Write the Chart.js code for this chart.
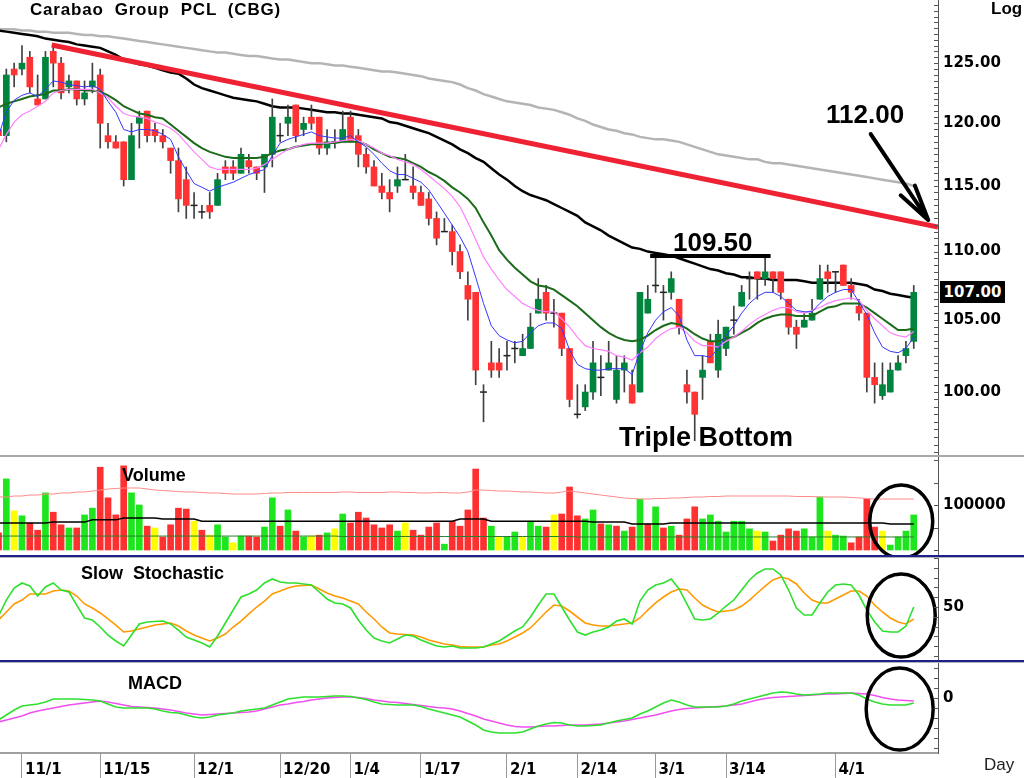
<!DOCTYPE html>
<html>
<head>
<meta charset="utf-8">
<title>Carabao Group PCL (CBG)</title>
<script src="https://cdn.jsdelivr.net/npm/chart.js"></script>
<style>
  html, body { margin: 0; padding: 0; background: #fff; }
  #wrap { position: relative; width: 1024px; height: 778px; overflow: hidden; background: #fff;
          font-family: "Liberation Sans", Arial, sans-serif; }
  canvas { position: absolute; left: 0; }
  .lbl { position: absolute; font-weight: bold; color: #000; white-space: pre; line-height: 1; }
  .sep { position: absolute; left: 0; width: 1024px; }
  #last { position: absolute; left: 940px; top: 281px; width: 65px; height: 22px; background: #000; color: #fff;
          font: bold 15px "DejaVu Sans", sans-serif; line-height: 22px; text-align: center; }
</style>
</head>
<body>
<div id="wrap">
  <canvas id="cPrice" width="1024" height="457" style="top:0px"></canvas>
  <canvas id="cVol" width="1024" height="98" style="top:457px"></canvas>
  <canvas id="cSto" width="1024" height="102" style="top:558px"></canvas>
  <canvas id="cMacd" width="1024" height="115" style="top:663px"></canvas>

  <div class="sep" style="top:455px;height:2px;background:#a8a8a8"></div>
  <div class="sep" style="top:555px;height:2px;background:#20208a"></div>
  <div class="sep" style="top:557px;height:1px;background:#b4b4b4"></div>
  <div class="sep" style="top:660px;height:2px;background:#20208a"></div>
  <div class="sep" style="top:662px;height:1px;background:#b4b4b4"></div>

  <div class="lbl" style="left:30px;top:1px;font-size:17px;letter-spacing:0.8px">Carabao  Group  PCL  (CBG)</div>
  <div class="lbl" style="left:991px;top:0px;font-size:17px">Log</div>
  <div class="lbl" style="left:826px;top:101px;font-size:26px">112.00</div>
  <div class="lbl" style="left:673px;top:229px;font-size:26px">109.50</div>
  <div class="lbl" style="left:619px;top:424px;font-size:27px">Triple Bottom</div>
  <div class="lbl" style="left:122px;top:466px;font-size:18px">Volume</div>
  <div class="lbl" style="left:81px;top:564px;font-size:18px">Slow  Stochastic</div>
  <div class="lbl" style="left:128px;top:674px;font-size:18px">MACD</div>
  <div class="lbl" style="left:984px;top:756px;font-size:17px;font-weight:normal;color:#222">Day</div>
  <div id="last">107.00</div>
</div>
<script>
// trading days, first visible bar is day -3 (11/1 = day 0)
const firstDay = -3;

const opens = [
  119.5, 119, 124.5, 124.5, 125.5, 122, 122, 126, 125, 123,
  123.5, 122, 123, 124, 119, 118.5, 118.5, 115.5, 120, 121,
  119.5, 119, 118, 117, 115.5, 113.5, 113, 113.5, 113.5, 116.5,
  116.5, 116, 117, 116.5, 116.5, 117.5, 119, 120, 121.5, 119.5,
  120.5, 120.5, 118, 118.5, 118.5, 120.5, 119, 117.5, 116.5, 115,
  114.5, 115, 115.5, 115, 114.5, 114, 112.5, 111.5, 111.5, 110,
  107.5, 107, 100, 102, 102, 102.5, 103, 102.5, 103, 105.5,
  107, 105.5, 105.5, 103, 98.5, 99, 100, 101, 101.5, 99.5,
  101.5, 100.5, 100, 105.5, 107.5, 107, 107, 106.5, 100.5, 100,
  101, 103.5, 101.5, 103, 105, 106, 108, 108.5, 108, 108.5,
  108.5, 106.5, 104.5, 104.5, 105, 106.5, 108.5, 108.5, 109, 107.5,
  106, 105.5, 101, 99.75, 100, 101.5, 102.5, 103.5
];
const highs = [
  120, 124.5, 125, 126.5, 126, 124, 126, 126.5, 125.5, 124,
  123.5, 123.5, 125, 124.5, 120, 119, 118.5, 120, 121, 121,
  120, 119.5, 118, 118, 116.5, 114.5, 113.5, 114.5, 116, 117,
  117, 118, 117.5, 116.5, 117.5, 122, 120, 121.5, 121.5, 120.5,
  121.5, 120.5, 119.5, 119.5, 121, 121, 119.5, 118, 117, 116,
  115.5, 116.5, 117.5, 116.5, 115, 114.5, 113, 112.5, 112, 110.5,
  108.5, 107, 100.5, 103.5, 103, 103.5, 103.5, 104, 105.5, 108,
  107.5, 106.5, 105.5, 103, 100.5, 100.5, 103.5, 102.5, 103.5, 102.5,
  102.5, 101.5, 107, 107.5, 109.5, 107.5, 108.5, 106.5, 101.5, 100,
  102.5, 104, 105, 104.5, 106, 107.5, 108.5, 108.5, 109.5, 108.5,
  108.5, 106.5, 105, 105.5, 106.5, 109, 109, 108.5, 109, 108,
  106.5, 105.5, 102, 102, 102, 102.5, 103.5, 107.5
];
const lows = [
  118.5, 118.5, 123, 124, 122.5, 121.5, 122, 123, 122, 122.5,
  121.5, 121.5, 122.5, 118, 118, 118, 115, 115.5, 118, 118.5,
  118.5, 118, 116, 113, 112.5, 112.5, 112.5, 112.5, 113.5, 115.5,
  115.5, 116, 116, 115.5, 114.5, 116.5, 118.5, 119, 118.5, 119,
  119.5, 117.5, 117.5, 118, 118.5, 118.5, 116.5, 116, 115, 114,
  113, 114.5, 115.5, 114, 113.5, 112, 110.5, 111.5, 109, 108,
  105, 100.5, 98, 101, 101, 101.5, 102, 102.5, 103, 105.5,
  105, 104.5, 102.5, 99, 98.25, 98.75, 99.5, 99.75, 101.5, 99.25,
  100, 99.25, 100, 105.5, 107, 105, 106.5, 104, 99.25, 96.75,
  99.5, 102, 101, 102.5, 104, 106, 106.5, 106.5, 107.5, 107,
  106.5, 104, 103, 104.5, 105, 106.5, 107, 107, 107.5, 106.5,
  105, 100, 99.25, 99.5, 100, 101.5, 102, 103
];
const closes = [
  119, 124, 124, 125, 123, 121.5, 125.5, 125, 122.5, 123.5,
  122, 122.5, 123.5, 120, 118.5, 118, 115.5, 119, 120.5, 119,
  119, 118.5, 117, 114, 113.5, 113.5, 113, 113, 115.5, 116,
  116, 117.5, 116.5, 116, 117.5, 120.5, 119, 120.5, 119, 120,
  120, 118, 118.5, 118.5, 119.5, 118.5, 117.5, 116.5, 115, 114.5,
  114, 115.5, 115.5, 114.5, 113.5, 112.5, 111, 111.5, 110, 108.5,
  106.5, 101.5, 100, 101.5, 101.5, 102.5, 103, 103, 104.5, 106.5,
  105.5, 105.5, 103, 99.5, 98.5, 100, 102, 101, 102, 101.5,
  102, 99.25, 107, 106.5, 107.5, 107, 108, 104.5, 100, 98.5,
  101.5, 102, 104, 104.5, 105, 107, 108, 108, 108.5, 108,
  107, 104.5, 104, 105, 105.5, 108, 108, 108.5, 107.5, 107,
  105.5, 101, 100.5, 100.5, 101.5, 102, 103, 107
];

// moving averages drawn on the price panel
const maBlue = [
  119.0, 120.9, 121.9, 122.3, 122.5, 122.2, 122.8, 123.5, 123.4, 123.2,
  123.1, 123.0, 123.1, 122.8, 121.8, 120.9, 119.5, 119.3, 119.5, 119.5,
  119.4, 119.1, 118.7, 117.3, 116.2, 115.2, 114.9, 114.6, 114.9, 115.1,
  115.3, 115.6, 115.9, 116.1, 116.3, 117.4, 118.4, 118.7, 118.9, 119.1,
  119.3, 119.0, 118.9, 118.8, 118.8, 119.0, 118.5, 118.1, 117.5, 116.8,
  116.2, 115.9, 115.9, 115.6, 115.3, 114.7, 113.8, 112.9, 112.0, 111.1,
  110.0, 108.1, 106.2, 104.6, 103.9, 103.6, 103.4, 103.5, 104.1, 104.6,
  104.8, 104.8, 104.4, 102.9, 101.9, 101.6, 101.5, 101.5, 101.6, 101.6,
  101.6, 101.2, 102.8, 104.1, 105.0, 105.6, 105.9, 105.3, 103.6, 102.5,
  102.5, 102.4, 103.0, 103.9, 104.6, 105.5, 106.2, 106.7, 107.0, 107.0,
  106.7, 106.2, 105.7, 105.6, 105.6, 106.2, 106.7, 107.0, 107.2, 107.2,
  106.3, 105.4, 104.1, 103.1, 102.8, 102.7, 103.0, 103.8
];
const maPink = [
  117.9, 119.1, 120.1, 120.7, 121.0, 121.4, 121.8, 122.5, 122.7, 122.8,
  122.8, 122.8, 122.8, 122.5, 122.1, 121.4, 120.8, 120.6, 120.5, 120.4,
  120.1, 119.9, 119.6, 119.1, 118.4, 117.7, 117.1, 116.5, 116.3, 116.3,
  116.3, 116.3, 116.3, 116.4, 116.7, 117.1, 117.5, 117.9, 118.1, 118.3,
  118.4, 118.4, 118.4, 118.5, 118.6, 118.7, 118.6, 118.3, 118.0, 117.6,
  117.4, 117.1, 116.9, 116.7, 116.3, 115.8, 115.3, 114.8, 114.2, 113.4,
  112.2, 110.9, 109.6, 108.7, 107.9, 107.2, 106.7, 106.2, 105.9, 105.7,
  105.6, 105.6, 105.1, 104.5, 103.8, 103.2, 103.0, 102.9, 102.8, 102.5,
  102.4, 102.2, 102.7, 103.1, 103.7, 104.1, 104.4, 104.5, 104.1, 103.5,
  103.2, 103.2, 103.1, 103.5, 103.8, 104.2, 104.7, 105.1, 105.4, 105.7,
  105.9, 105.9, 105.6, 105.5, 105.7, 105.9, 106.2, 106.4, 106.5, 106.6,
  106.4, 105.7, 105.1, 104.6, 104.1, 103.9, 103.8, 104.2
];
const maGreen = [
  121.3, 121.6, 121.8, 122.0, 122.2, 122.3, 122.4, 122.7, 122.7, 122.8,
  122.8, 122.7, 122.7, 122.6, 122.3, 121.9, 121.4, 121.1, 120.8, 120.7,
  120.5, 120.4, 119.9, 119.4, 118.9, 118.4, 118.0, 117.7, 117.5, 117.3,
  117.2, 117.2, 117.2, 117.2, 117.3, 117.6, 117.8, 117.9, 118.1, 118.2,
  118.3, 118.3, 118.4, 118.4, 118.5, 118.5, 118.5, 118.3, 117.9, 117.6,
  117.3, 117.2, 117.1, 116.8, 116.5, 116.1, 115.8, 115.4, 114.9, 114.5,
  114.0, 113.3, 112.2, 111.2, 110.1, 109.4, 108.8, 108.3, 107.8, 107.5,
  107.4, 107.2, 106.8, 106.4, 106.0, 105.5, 105.0, 104.5, 104.1, 103.8,
  103.6, 103.5, 103.6, 103.9, 104.3, 104.6, 104.8, 104.7, 104.4, 104.0,
  103.7, 103.5, 103.5, 103.7, 103.8, 104.1, 104.4, 104.8, 105.1, 105.3,
  105.4, 105.4, 105.3, 105.3, 105.3, 105.6, 105.9, 106.0, 106.2, 106.2,
  106.2, 105.9, 105.5, 105.1, 104.7, 104.3, 104.3, 104.4
];
const maBlack = [
  127.8, 127.7, 127.6, 127.5, 127.4, 127.3, 127.1, 127.0, 126.9, 126.8,
  126.6, 126.5, 126.4, 126.3, 126.0, 125.7, 125.3, 125.1, 124.9, 124.8,
  124.6, 124.4, 124.2, 124.1, 123.7, 123.2, 122.9, 122.7, 122.5, 122.3,
  122.1, 122.0, 121.9, 121.8, 121.6, 121.4, 121.3, 121.3, 121.3, 121.2,
  121.1, 121.0, 120.9, 120.9, 120.8, 120.8, 120.7, 120.6, 120.5, 120.4,
  120.1, 120.0, 119.8, 119.6, 119.4, 119.2, 118.9, 118.6, 118.3, 117.9,
  117.6, 117.2, 116.9, 116.4, 115.9, 115.5, 115.0, 114.6, 114.3, 114.1,
  113.9, 113.6, 113.3, 113.0, 112.7, 112.2, 111.9, 111.6, 111.2, 110.9,
  110.6, 110.3, 110.2, 110.0, 109.9, 109.8, 109.7, 109.5, 109.3, 109.1,
  108.9, 108.7, 108.6, 108.4, 108.3, 108.1, 108.1, 108.0, 108.0, 107.9,
  107.9, 107.9, 107.9, 107.8, 107.7, 107.7, 107.7, 107.7, 107.7, 107.7,
  107.6, 107.5, 107.2, 107.1, 106.9, 106.8, 106.7, 106.6
];
const maGrey = [
  127.9, 127.9, 127.9, 127.8, 127.8, 127.7, 127.7, 127.6, 127.6, 127.6,
  127.5, 127.4, 127.4, 127.3, 127.3, 127.2, 127.1, 127.0, 126.9, 126.8,
  126.7, 126.6, 126.5, 126.4, 126.3, 126.2, 126.1, 126.0, 125.9, 125.9,
  125.8, 125.7, 125.6, 125.6, 125.5, 125.4, 125.3, 125.3, 125.2, 125.1,
  125.0, 125.0, 124.9, 124.8, 124.8, 124.7, 124.6, 124.5, 124.4, 124.3,
  124.3, 124.2, 124.1, 124.0, 123.9, 123.7, 123.6, 123.5, 123.4, 123.2,
  122.9, 122.7, 122.4, 122.2, 122.0, 121.8, 121.7, 121.6, 121.5, 121.3,
  121.2, 121.1, 120.9, 120.7, 120.4, 120.2, 119.9, 119.7, 119.5, 119.4,
  119.2, 119.1, 118.9, 118.8, 118.7, 118.7, 118.6, 118.5, 118.3, 118.1,
  117.9, 117.7, 117.5, 117.4, 117.3, 117.2, 117.1, 117.1, 116.9, 116.8,
  116.8, 116.7, 116.6, 116.5, 116.4, 116.3, 116.2, 116.1, 116.0, 115.9,
  115.8, 115.7, 115.6, 115.5, 115.4, 115.3, 115.2, 115.0
];

// drawn trend line and the 109.50 level
const trendDays = [3.8, 117.1];
const trendPrices = [126.55, 111.85];
const levelDays = [80.3, 95.7];
const levelPrices = [109.67, 109.67];

// volume in thousand shares, colour code u = up, d = down, n = unchanged
const volume = [
  38, 158, 87, 76, 60, 44, 127, 84, 56, 49,
  49, 78, 93, 184, 116, 78, 187, 127, 100, 53,
  49, 29, 56, 93, 91, 64, 44, 33, 56, 29,
  16, 31, 31, 29, 51, 116, 53, 89, 42, 29,
  31, 33, 38, 47, 80, 60, 84, 71, 56, 49,
  56, 42, 60, 44, 33, 51, 60, 13, 64, 53,
  89, 180, 71, 53, 29, 29, 40, 29, 64, 53,
  51, 78, 80, 140, 76, 69, 89, 58, 56, 53,
  42, 51, 113, 58, 96, 49, 53, 33, 69, 96,
  69, 78, 64, 40, 64, 64, 47, 42, 40, 20,
  33, 47, 42, 47, 29, 118, 42, 33, 31, 16,
  29, 113, 51, 42, 11, 29, 42, 78
];
const volDir = ("dunudduddu" + "duudddduud" + "nddddndnuu" + "nudduududu" +
                "ndunuddddd" + "dunddddudd" + "dddunuunuu" + "dnddduudud" +
                "ududududdd" + "uuuuuuunud" + "ddduuunuud" + "dddnuuuu").split('');
const volUpper = [
  117.8, 117.8, 120.0, 120.0, 122.2, 122.2, 124.4, 124.4, 126.7, 126.7,
  128.9, 128.9, 131.1, 133.3, 135.6, 136.7, 137.8, 137.8, 137.8, 135.6,
  133.3, 132.2, 131.1, 130.0, 128.9, 128.9, 127.8, 126.7, 126.7, 125.6,
  124.4, 124.4, 124.4, 124.4, 125.6, 126.7, 126.7, 127.8, 127.8, 127.8,
  127.8, 127.8, 127.8, 127.8, 128.9, 128.9, 127.8, 127.8, 127.8, 127.8,
  128.9, 128.9, 127.8, 127.8, 126.7, 126.7, 127.8, 127.8, 126.7, 126.7,
  128.9, 133.3, 133.3, 132.2, 131.1, 131.1, 130.0, 128.9, 128.9, 127.8,
  126.7, 126.7, 128.9, 131.1, 128.9, 126.7, 124.4, 122.2, 120.0, 117.8,
  115.6, 114.4, 113.3, 113.3, 114.4, 114.4, 115.6, 115.6, 116.7, 117.8,
  117.8, 118.9, 118.9, 120.0, 120.0, 120.0, 120.0, 120.0, 120.0, 120.0,
  120.0, 120.0, 118.9, 118.9, 118.9, 117.8, 117.8, 117.8, 117.8, 116.7,
  115.6, 114.4, 113.3, 113.3, 113.3, 113.3, 113.3, 113.3
];
const volAvg = [
  60, 60, 60, 60, 60, 60, 60, 62, 62, 62,
  62, 62, 67, 67, 67, 67, 71, 71, 71, 71,
  71, 69, 69, 69, 69, 69, 64, 64, 64, 64,
  64, 64, 64, 64, 64, 64, 64, 64, 64, 64,
  64, 64, 64, 64, 64, 64, 64, 64, 64, 64,
  64, 64, 64, 64, 64, 64, 64, 64, 64, 69,
  69, 69, 69, 64, 64, 64, 64, 64, 64, 64,
  64, 64, 64, 64, 64, 64, 62, 62, 62, 62,
  62, 58, 58, 58, 58, 58, 60, 60, 60, 60,
  60, 60, 60, 60, 60, 60, 60, 60, 60, 60,
  60, 60, 60, 60, 60, 60, 60, 60, 60, 60,
  60, 60, 60, 60, 58, 58, 58, 58
];
const volLower = [
  31, 31, 31, 31, 31, 31, 31, 31, 31, 31,
  31, 31, 31, 31, 31, 31, 31, 31, 31, 31,
  31, 31, 31, 31, 31, 31, 31, 31, 31, 31,
  31, 31, 31, 31, 31, 31, 31, 31, 31, 31,
  31, 31, 31, 31, 30, 30, 30, 30, 30, 30,
  30, 30, 30, 30, 30, 30, 30, 30, 30, 30,
  30, 30, 30, 30, 30, 30, 30, 30, 30, 30,
  30, 30, 30, 30, 29, 29, 29, 29, 29, 29,
  29, 29, 29, 29, 29, 29, 29, 29, 29, 29,
  29, 29, 29, 29, 29, 29, 29, 29, 29, 29,
  29, 29, 29, 29, 29, 29, 29, 29, 29, 29,
  29, 29, 29, 29, 29, 29, 29, 29
];

// slow stochastic %K and %D
const stochK = [
  40.8, 57.1, 69.4, 74.5, 71.4, 61.2, 70.4, 74.5, 67.3, 65.3,
  52.0, 38.8, 36.7, 29.6, 21.4, 15.3, 10.2, 21.4, 32.7, 34.7,
  35.2, 35.7, 32.7, 26.5, 19.4, 16.3, 13.3, 9.2, 20.4, 33.7,
  46.9, 60.2, 63.3, 67.3, 74.5, 78.6, 75.5, 74.5, 74.5, 73.5,
  72.4, 65.3, 58.2, 54.1, 53.1, 49.0, 36.7, 26.5, 18.4, 15.3,
  13.3, 17.3, 21.4, 20.4, 16.3, 13.3, 10.2, 9.2, 10.2, 8.2,
  8.2, 8.2, 9.2, 12.2, 15.3, 20.4, 25.5, 29.6, 39.8, 52.0,
  63.3, 63.3, 50.0, 36.7, 24.5, 21.4, 24.5, 26.5, 29.6, 35.7,
  37.8, 32.7, 56.1, 67.3, 72.4, 74.5, 78.6, 68.4, 53.1, 37.8,
  36.7, 37.8, 43.9, 51.0, 57.1, 67.3, 77.6, 84.7, 88.8, 88.8,
  82.7, 67.3, 49.0, 41.8, 41.8, 54.1, 65.3, 72.4, 73.5, 72.4,
  62.2, 46.9, 34.7, 25.5, 24.5, 24.5, 30.6, 50.0
];
const stochD = [
  36.7, 44.9, 53.1, 57.1, 63.3, 63.3, 63.3, 66.3, 67.3, 66.3,
  61.2, 53.1, 49.0, 43.9, 37.8, 31.6, 24.5, 25.5, 27.6, 29.6,
  31.6, 32.7, 33.7, 30.6, 25.5, 21.4, 18.4, 15.3, 18.4, 22.4,
  29.6, 35.7, 42.9, 50.0, 56.1, 63.3, 66.3, 69.4, 71.4, 71.9,
  72.4, 68.4, 64.3, 61.2, 59.2, 56.1, 53.1, 44.9, 37.8, 29.6,
  23.5, 22.4, 21.9, 21.4, 19.4, 16.3, 14.3, 12.2, 11.2, 9.7,
  9.2, 9.2, 9.2, 11.2, 12.2, 15.3, 19.4, 23.5, 28.6, 36.7,
  44.9, 52.0, 51.0, 45.9, 39.8, 33.7, 31.6, 30.6, 30.6, 31.6,
  32.7, 33.7, 38.8, 46.9, 54.1, 60.2, 65.3, 68.4, 67.3, 59.2,
  52.0, 48.0, 44.9, 45.9, 46.9, 51.0, 57.1, 64.3, 71.4, 77.6,
  80.6, 78.6, 73.5, 64.3, 57.1, 54.1, 54.1, 58.2, 62.2, 66.3,
  66.3, 61.2, 52.0, 44.9, 38.8, 34.7, 32.7, 37.8
];

// MACD and signal line
const macd = [
  -2.2, -1.7, -1.2, -0.8, -0.7, -0.6, -0.4, -0.1, -0.1, -0.1,
  -0.1, -0.15, -0.2, -0.3, -0.6, -0.9, -1.0, -1.0, -1.0, -1.0,
  -1.1, -1.3, -1.45, -1.5, -1.7, -1.9, -2.0, -1.9, -1.7, -1.6,
  -1.5, -1.3, -1.2, -1.1, -1.0, -0.7, -0.4, -0.1, 0, 0.1,
  0.1, 0.1, 0.15, 0.2, 0.2, 0.15, 0, -0.15, -0.4, -0.6,
  -0.65, -0.7, -0.7, -0.7, -0.85, -1.1, -1.3, -1.5, -1.7, -1.9,
  -2.3, -2.7, -3.2, -3.4, -3.5, -3.5, -3.5, -3.4, -3.1, -2.8,
  -2.6, -2.45, -2.5, -2.7, -2.8, -2.8, -2.75, -2.7, -2.5, -2.3,
  -2.15, -2.0, -1.6, -1.3, -0.9, -0.5, -0.2, -0.4, -0.7, -0.9,
  -0.9, -0.9, -0.9, -0.8, -0.6, -0.3, -0.1, 0.1, 0.3, 0.5,
  0.6, 0.55, 0.4, 0.3, 0.35, 0.4, 0.5, 0.5, 0.5, 0.5,
  0.3, -0.1, -0.4, -0.6, -0.7, -0.7, -0.7, -0.5
];
const macdSignal = [
  -2.4, -2.2, -2.0, -1.8, -1.5, -1.3, -1.15, -1.0, -0.85, -0.7,
  -0.6, -0.5, -0.4, -0.3, -0.4, -0.55, -0.7, -0.85, -0.9, -0.95,
  -1.0, -1.1, -1.2, -1.35, -1.5, -1.6, -1.7, -1.65, -1.6, -1.55,
  -1.5, -1.45, -1.4, -1.3, -1.1, -0.9, -0.7, -0.6, -0.45, -0.35,
  -0.2, -0.1, 0, 0.05, 0.1, 0.1, 0.05, -0.05, -0.2, -0.3,
  -0.4, -0.45, -0.55, -0.65, -0.75, -0.85, -0.95, -1.0, -1.1, -1.3,
  -1.55, -1.8, -2.1, -2.3, -2.5, -2.7, -2.85, -2.9, -2.9, -2.85,
  -2.8, -2.8, -2.75, -2.7, -2.7, -2.7, -2.65, -2.6, -2.5, -2.4,
  -2.3, -2.15, -2.0, -1.85, -1.7, -1.5, -1.3, -1.15, -1.05, -1.0,
  -0.95, -0.9, -0.85, -0.8, -0.7, -0.6, -0.4, -0.2, -0.05, 0.05,
  0.1, 0.15, 0.2, 0.25, 0.3, 0.35, 0.4, 0.4, 0.45, 0.5,
  0.45, 0.4, 0.25, 0.05, -0.1, -0.2, -0.25, -0.3
];

// axis ticks
const tickDays = [0, 10, 22, 33, 42, 51, 62, 71, 81, 90, 104];
const tickLabels = ['11/1', '11/15', '12/1', '12/20', '1/4', '1/17', '2/1', '2/14', '3/1', '3/14', '4/1'];
const priceTicks = [100, 105, 110, 115, 120, 125];

const days = closes.map((_, k) => k + firstDay);
const X_MIN = -2.81, X_MAX = 117.1;
const tickFont = { family: 'DejaVu Sans', size: 15, weight: 'bold' };

const pts = (arr) => arr.map((v, k) => ({ x: days[k], y: v }));
const line = (arr, color, width, order) => ({
  type: 'line', data: pts(arr), borderColor: color, borderWidth: width,
  pointRadius: 0, tension: 0, fill: false, order: order
});

// small tick marks along the right axis
function minorTicks(from, to, step) {
  return {
    id: 'minorTicks',
    afterDraw(chart) {
      const y = chart.scales.y, a = chart.chartArea, ctx = chart.ctx;
      ctx.save();
      ctx.strokeStyle = '#555';
      ctx.lineWidth = 1;
      ctx.beginPath();
      for (let v = from; v <= to + 1e-9; v += step) {
        const py = Math.round(y.getPixelForValue(v)) + 0.5;
        if (py < a.top || py > a.bottom) continue;
        ctx.moveTo(a.right - 4, py);
        ctx.lineTo(a.right + 1, py);
      }
      ctx.stroke();
      ctx.restore();
    }
  };
}

// hand-drawn ellipse and arrow marks
function marks(rings, arrow) {
  return {
    id: 'marks',
    afterDatasetsDraw(chart) {
      const { ctx, scales: { x, y } } = chart;
      ctx.save();
      ctx.strokeStyle = '#000';
      rings.forEach(r => {
        ctx.lineWidth = 3.5;
        ctx.beginPath();
        ctx.ellipse(x.getPixelForValue(r.at), y.getPixelForValue(r.v), r.rx, r.ry, 0, 0, Math.PI * 2);
        ctx.stroke();
      });
      if (arrow) {
        const x0 = x.getPixelForValue(arrow.from[0]), y0 = y.getPixelForValue(arrow.from[1]);
        const x1 = x.getPixelForValue(arrow.to[0]), y1 = y.getPixelForValue(arrow.to[1]);
        const ang = Math.atan2(y0 - y1, x0 - x1);
        ctx.lineWidth = 4;
        ctx.lineCap = 'round';
        ctx.beginPath();
        ctx.moveTo(x0, y0);
        ctx.lineTo(x1, y1);
        [-0.25, 0.22].forEach(d => {
          ctx.moveTo(x1, y1);
          ctx.lineTo(x1 + 37 * Math.cos(ang + d), y1 + 37 * Math.sin(ang + d));
        });
        ctx.stroke();
      }
      ctx.restore();
    }
  };
}

// no label padding: the plot area must fill the whole panel
const noPad = s => { s.paddingTop = 0; s.paddingBottom = 0; s.paddingLeft = 0; s.paddingRight = 0; };

function yAxis(extra) {
  return Object.assign({
    position: 'right',
    grid: { display: false, drawTicks: false },
    border: { display: true, color: '#555', width: 1 },
    ticks: { font: tickFont, color: '#000', padding: 5 },
    afterFit: s => { s.width = 86; noPad(s); }
  }, extra);
}

function panel(id, datasets, y, x, plugins) {
  return new Chart(document.getElementById(id), {
    type: 'line',
    data: { datasets: datasets },
    options: {
      responsive: false,
      animation: false,
      events: [],
      layout: { padding: 0, autoPadding: false },
      plugins: { legend: { display: false }, tooltip: { enabled: false } },
      scales: {
        x: x || { type: 'linear', display: false, offset: false, min: X_MIN, max: X_MAX },
        y: y
      }
    },
    plugins: plugins
  });
}

// ---- price panel ----
const isDoji = closes.map((c, k) => c === opens[k]);
const wickData = days.map((d, k) => ({ x: d, y: [lows[k], highs[k]] }));
const bodyData = [], bodyColors = [], dojiData = [];
days.forEach((d, k) => {
  if (isDoji[k]) { dojiData.push({ x: d, y: closes[k] }); return; }
  bodyData.push({ x: d, y: [Math.min(opens[k], closes[k]), Math.max(opens[k], closes[k])] });
  bodyColors.push(closes[k] > opens[k] ? '#00843e' : '#ff3333');
});

panel('cPrice', [
  line(maGrey, '#b4b4b4', 2.5, 20),
  line(maBlack, '#000000', 2.5, 19),
  { type: 'bar', data: wickData, backgroundColor: '#404040', barThickness: 1, grouped: false, order: 18 },
  { type: 'bar', data: bodyData, backgroundColor: bodyColors, barThickness: 6, grouped: false, order: 17 },
  { type: 'line', data: dojiData, showLine: false, pointStyle: 'line', pointRadius: 3.5,
    pointBorderWidth: 1.5, pointBorderColor: '#222', order: 16 },
  line(maGreen, '#1b6b1b', 2, 15),
  line(maPink, '#ff80ff', 1.2, 14),
  line(maBlue, '#3636ff', 1, 13),
  { type: 'line', data: trendDays.map((d, k) => ({ x: d, y: trendPrices[k] })), borderColor: '#ee2233',
    borderWidth: 5, pointRadius: 0, order: 12 },
  { type: 'line', data: levelDays.map((d, k) => ({ x: d, y: levelPrices[k] })), borderColor: '#000',
    borderWidth: 4, pointRadius: 0, order: 11 }
], yAxis({
  type: 'logarithmic', min: 95.69, max: 130.47,
  afterBuildTicks: s => { s.ticks = priceTicks.map(v => ({ value: v })); },
  ticks: { font: tickFont, color: '#000', padding: 5, callback: v => Number(v).toFixed(2) }
}), null, [minorTicks(96, 130, 0.5), marks([], { from: [108.5, 119.13], to: [115.85, 112.38] })]);

// ---- volume panel ----
const volColors = { u: '#1ee61e', d: '#ff3030', n: '#ffff00' };
panel('cVol', [
  { type: 'bar', data: pts(volume), backgroundColor: volDir.map(c => volColors[c]),
    barThickness: 6, grouped: false, order: 10 },
  line(volUpper, '#ff8a8a', 1, 3),
  line(volAvg, '#000000', 1.5, 2),
  line(volLower, '#2d7d2d', 1, 1)
], yAxis({
  type: 'linear', min: -11.1, max: 206.7,
  afterBuildTicks: s => { s.ticks = [{ value: 100 }]; },
  ticks: { font: tickFont, color: '#000', padding: 5, callback: v => String(v * 1000) }
}), null, [minorTicks(0, 200, 50), marks([{ at: 112.4, v: 63.3, rx: 31.5, ry: 36.5 }], null)]);

// ---- slow stochastic panel ----
panel('cSto', [
  line(stochD, '#ff9a00', 1.6, 2),
  line(stochK, '#2ee02e', 1.6, 1)
], yAxis({
  type: 'linear', min: -4.08, max: 100,
  afterBuildTicks: s => { s.ticks = [{ value: 50 }]; },
  ticks: { font: tickFont, color: '#000', padding: 5, callback: v => String(v) }
}), null, [minorTicks(0, 100, 10), marks([{ at: 112.4, v: 41.3, rx: 34, ry: 41.5 }], null)]);

// ---- MACD panel with the date axis ----
panel('cMacd', [
  line(macdSignal, '#f050f0', 1.6, 2),
  line(macd, '#2ee02e', 1.6, 1)
], yAxis({
  type: 'linear', min: -5.5, max: 3.5,
  afterBuildTicks: s => { s.ticks = [{ value: 0 }]; },
  ticks: { font: tickFont, color: '#000', padding: 5, callback: v => String(v) }
}), {
  type: 'linear', min: X_MIN, max: X_MAX, position: 'bottom', offset: false,
  afterBuildTicks: s => { s.ticks = tickDays.map(v => ({ value: v })); },
  afterFit: s => { s.height = 25; noPad(s); },
  grid: { display: true, drawOnChartArea: false, drawTicks: true, tickLength: 25, color: '#999' },
  border: { display: true, color: '#a0a0a0', width: 2 },
  ticks: { autoSkip: false, maxRotation: 0, align: 'start', labelOffset: 3, padding: -17,
           font: tickFont, color: '#000',
           callback: v => { const k = tickDays.indexOf(v); return k < 0 ? '' : tickLabels[k]; } }
}, [minorTicks(-5, 3, 1), marks([{ at: 112.2, v: -1.1, rx: 33.5, ry: 41 }], null)]);
</script>
</body>
</html>
